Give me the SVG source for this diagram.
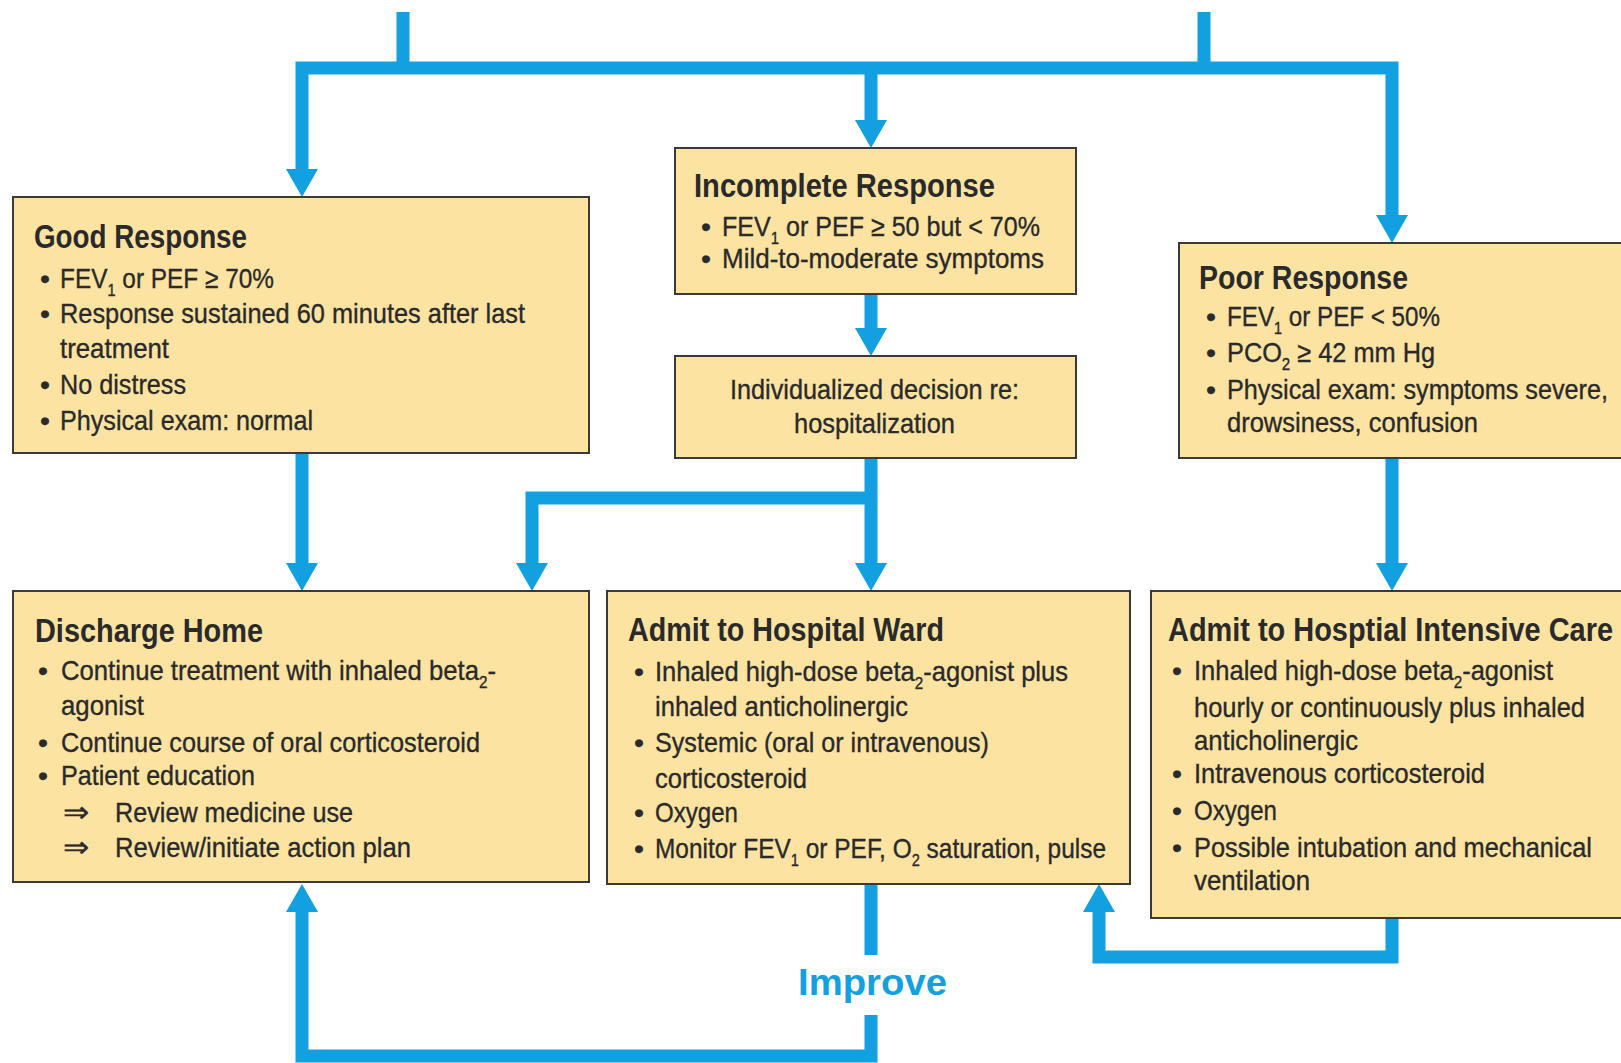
<svg xmlns="http://www.w3.org/2000/svg" width="1621" height="1063" viewBox="0 0 1621 1063">
<style>
.box{fill:#FCE3A2;stroke:#3a3a3a;stroke-width:2}
.t{font-family:"Liberation Sans",Arial,sans-serif;font-size:34px;font-weight:bold;fill:#2a2a2a}
.b{font-family:"Liberation Sans",Arial,sans-serif;font-size:28.5px;fill:#2a2a2a;stroke:#2a2a2a;stroke-width:0.35}
.s{font-size:17px}
.ln{fill:none;stroke:#12A0E0;stroke-width:13;stroke-linejoin:miter;stroke-linecap:butt}
.ah{fill:#12A0E0}
.imp{font-family:"Liberation Sans",Arial,sans-serif;font-size:36px;font-weight:bold;fill:#12A0E0}
</style>
<rect width="1621" height="1063" fill="#ffffff"/>
<g id="connectors">
<path class="ln" d="M403,12 V68"/>
<path class="ln" d="M1204,12 V68"/>
<path class="ln" d="M302,171 V68 H1392 V217"/>
<path class="ln" d="M871,68 V122"/>
<polygon class="ah" points="286,169 318,169 302,197"/>
<polygon class="ah" points="855,120 887,120 871,148"/>
<polygon class="ah" points="1376,215 1408,215 1392,243"/>
<path class="ln" d="M302,453 V565"/>
<polygon class="ah" points="286,563 318,563 302,591"/>
<path class="ln" d="M871,294 V330"/>
<polygon class="ah" points="855,328 887,328 871,356"/>
<path class="ln" d="M871,458 V565"/>
<polygon class="ah" points="855,563 887,563 871,591"/>
<path class="ln" d="M871,498 H532 V565"/>
<polygon class="ah" points="516,563 548,563 532,591"/>
<path class="ln" d="M1392,458 V565"/>
<polygon class="ah" points="1376,563 1408,563 1392,591"/>
<path class="ln" d="M871,884 V955"/>
<path class="ln" d="M871,1015 V1056 H302 V910"/>
<polygon class="ah" points="286,912 318,912 302,884"/>
<path class="ln" d="M1392,918 V957 H1099 V910"/>
<polygon class="ah" points="1083,912 1115,912 1099,884"/>
<text class="imp" x="798" y="995" textLength="149" lengthAdjust="spacingAndGlyphs">Improve</text>
</g>
<g id="good-response">
<rect class="box" x="13" y="197" width="576" height="256"/>
<text class="t" x="34" y="248" textLength="213" lengthAdjust="spacingAndGlyphs">Good Response</text>
<text class="b" x="40" y="288">•</text>
<text class="b" x="60" y="288" textLength="214" lengthAdjust="spacingAndGlyphs">FEV<tspan class="s" dy="8">1</tspan><tspan dy="-8"> or PEF ≥ 70%</tspan></text>
<text class="b" x="40" y="323">•</text>
<text class="b" x="60" y="323" textLength="465" lengthAdjust="spacingAndGlyphs">Response sustained 60 minutes after last</text>
<text class="b" x="60" y="358" textLength="109" lengthAdjust="spacingAndGlyphs">treatment</text>
<text class="b" x="40" y="394">•</text>
<text class="b" x="60" y="394" textLength="126" lengthAdjust="spacingAndGlyphs">No distress</text>
<text class="b" x="40" y="430">•</text>
<text class="b" x="60" y="430" textLength="253" lengthAdjust="spacingAndGlyphs">Physical exam: normal</text>
</g>
<g id="incomplete-response">
<rect class="box" x="675" y="148" width="401" height="146"/>
<text class="t" x="694" y="197" textLength="301" lengthAdjust="spacingAndGlyphs">Incomplete Response</text>
<text class="b" x="701" y="236">•</text>
<text class="b" x="722" y="236" textLength="318" lengthAdjust="spacingAndGlyphs">FEV<tspan class="s" dy="8">1</tspan><tspan dy="-8"> or PEF ≥ 50 but &lt; 70%</tspan></text>
<text class="b" x="701" y="268">•</text>
<text class="b" x="722" y="268" textLength="322" lengthAdjust="spacingAndGlyphs">Mild-to-moderate symptoms</text>
</g>
<g id="individualized-decision">
<rect class="box" x="675" y="356" width="401" height="102"/>
<text class="b" x="730" y="399" textLength="289" lengthAdjust="spacingAndGlyphs">Individualized decision re:</text>
<text class="b" x="794" y="433" textLength="161" lengthAdjust="spacingAndGlyphs">hospitalization</text>
</g>
<g id="poor-response">
<rect class="box" x="1179" y="243" width="460" height="215"/>
<text class="t" x="1199" y="289" textLength="209" lengthAdjust="spacingAndGlyphs">Poor Response</text>
<text class="b" x="1206" y="326">•</text>
<text class="b" x="1227" y="326" textLength="213" lengthAdjust="spacingAndGlyphs">FEV<tspan class="s" dy="8">1</tspan><tspan dy="-8"> or PEF &lt; 50%</tspan></text>
<text class="b" x="1206" y="362">•</text>
<text class="b" x="1227" y="362" textLength="208" lengthAdjust="spacingAndGlyphs">PCO<tspan class="s" dy="8">2</tspan><tspan dy="-8"> ≥ 42 mm Hg</tspan></text>
<text class="b" x="1206" y="399">•</text>
<text class="b" x="1227" y="399" textLength="381" lengthAdjust="spacingAndGlyphs">Physical exam: symptoms severe,</text>
<text class="b" x="1227" y="432" textLength="251" lengthAdjust="spacingAndGlyphs">drowsiness, confusion</text>
</g>
<g id="discharge-home">
<rect class="box" x="13" y="591" width="576" height="291"/>
<text class="t" x="35" y="642" textLength="228" lengthAdjust="spacingAndGlyphs">Discharge Home</text>
<text class="b" x="38" y="680">•</text>
<text class="b" x="61" y="680" textLength="435" lengthAdjust="spacingAndGlyphs">Continue treatment with inhaled beta<tspan class="s" dy="8">2</tspan><tspan dy="-8">-</tspan></text>
<text class="b" x="61" y="715" textLength="83" lengthAdjust="spacingAndGlyphs">agonist</text>
<text class="b" x="38" y="752">•</text>
<text class="b" x="61" y="752" textLength="419" lengthAdjust="spacingAndGlyphs">Continue course of oral corticosteroid</text>
<text class="b" x="38" y="785">•</text>
<text class="b" x="61" y="785" textLength="194" lengthAdjust="spacingAndGlyphs">Patient education</text>
<text class="b" x="63" y="822" textLength="26" lengthAdjust="spacingAndGlyphs">⇒</text>
<text class="b" x="115" y="822" textLength="238" lengthAdjust="spacingAndGlyphs">Review medicine use</text>
<text class="b" x="63" y="857" textLength="26" lengthAdjust="spacingAndGlyphs">⇒</text>
<text class="b" x="115" y="857" textLength="296" lengthAdjust="spacingAndGlyphs">Review/initiate action plan</text>
</g>
<g id="admit-ward">
<rect class="box" x="607" y="591" width="523" height="293"/>
<text class="t" x="628" y="641" textLength="316" lengthAdjust="spacingAndGlyphs">Admit to Hospital Ward</text>
<text class="b" x="634" y="681">•</text>
<text class="b" x="655" y="681" textLength="413" lengthAdjust="spacingAndGlyphs">Inhaled high-dose beta<tspan class="s" dy="8">2</tspan><tspan dy="-8">-agonist plus</tspan></text>
<text class="b" x="655" y="716" textLength="253" lengthAdjust="spacingAndGlyphs">inhaled anticholinergic</text>
<text class="b" x="634" y="752">•</text>
<text class="b" x="655" y="752" textLength="334" lengthAdjust="spacingAndGlyphs">Systemic (oral or intravenous)</text>
<text class="b" x="655" y="788" textLength="152" lengthAdjust="spacingAndGlyphs">corticosteroid</text>
<text class="b" x="634" y="822">•</text>
<text class="b" x="655" y="822" textLength="83" lengthAdjust="spacingAndGlyphs">Oxygen</text>
<text class="b" x="634" y="858">•</text>
<text class="b" x="655" y="858" textLength="451" lengthAdjust="spacingAndGlyphs">Monitor FEV<tspan class="s" dy="8">1</tspan><tspan dy="-8"> or PEF, O</tspan><tspan class="s" dy="8">2</tspan><tspan dy="-8"> saturation, pulse</tspan></text>
</g>
<g id="admit-icu">
<rect class="box" x="1151" y="591" width="490" height="327"/>
<text class="t" x="1168" y="641" textLength="445" lengthAdjust="spacingAndGlyphs">Admit to Hosptial Intensive Care</text>
<text class="b" x="1172" y="680">•</text>
<text class="b" x="1194" y="680" textLength="359" lengthAdjust="spacingAndGlyphs">Inhaled high-dose beta<tspan class="s" dy="8">2</tspan><tspan dy="-8">-agonist</tspan></text>
<text class="b" x="1194" y="717" textLength="391" lengthAdjust="spacingAndGlyphs">hourly or continuously plus inhaled</text>
<text class="b" x="1194" y="750" textLength="164" lengthAdjust="spacingAndGlyphs">anticholinergic</text>
<text class="b" x="1172" y="783">•</text>
<text class="b" x="1194" y="783" textLength="291" lengthAdjust="spacingAndGlyphs">Intravenous corticosteroid</text>
<text class="b" x="1172" y="820">•</text>
<text class="b" x="1194" y="820" textLength="83" lengthAdjust="spacingAndGlyphs">Oxygen</text>
<text class="b" x="1172" y="857">•</text>
<text class="b" x="1194" y="857" textLength="398" lengthAdjust="spacingAndGlyphs">Possible intubation and mechanical</text>
<text class="b" x="1194" y="890" textLength="116" lengthAdjust="spacingAndGlyphs">ventilation</text>
</g>
</svg>
